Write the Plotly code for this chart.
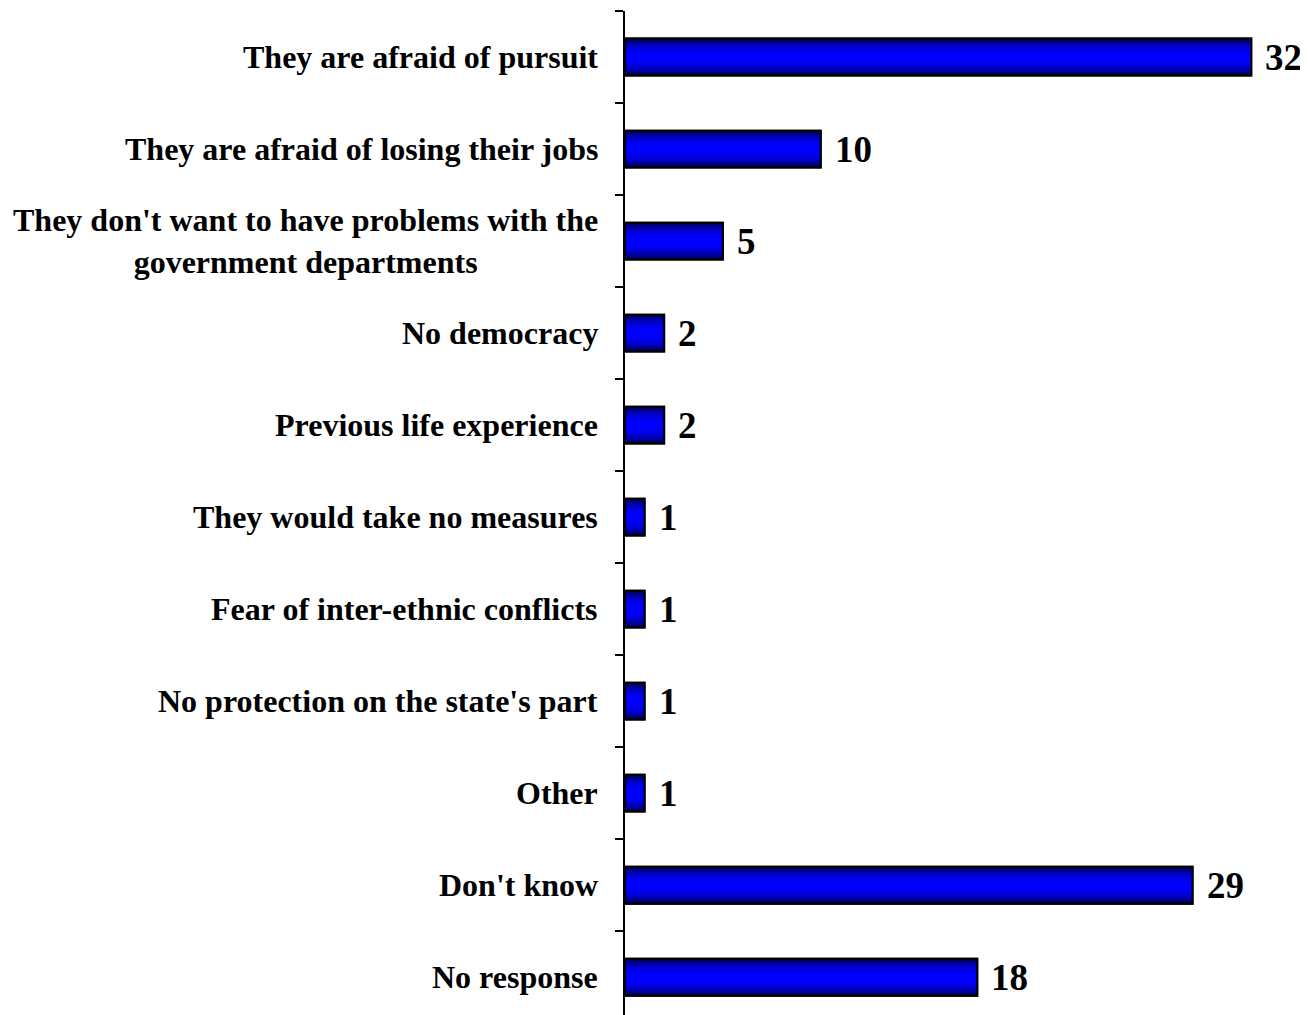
import plotly.graph_objects as go

categories = [
    "They are afraid of pursuit",
    "They are afraid of losing their jobs",
    "They don't want to have problems with the<br>government departments",
    "No democracy",
    "Previous life experience",
    "They would take no measures",
    "Fear of inter-ethnic conflicts",
    "No protection on the state's part",
    "Other",
    "Don't know",
    "No response",
]
values = [32, 10, 5, 2, 2, 1, 1, 1, 1, 29, 18]

FONT = "Liberation Serif, Times New Roman, serif"

# layered bars to imitate the vertical gradient of the original bars
layers = [
    (0.40, "#000050", 2),
    (0.36, "#000080", 0),
    (0.31, "#0000aa", 0),
    (0.25, "#0000d0", 0),
    (0.18, "#0000ec", 0),
    (0.10, "#0000ff", 0),
]

fig = go.Figure()
for w, col, lw in layers:
    fig.add_trace(go.Bar(
        x=values, y=categories, orientation="h", width=w,
        marker=dict(color=col, line=dict(color="black", width=lw)),
        hoverinfo="skip", showlegend=False,
    ))
# redraw outline on top
fig.add_trace(go.Bar(
    x=values, y=categories, orientation="h", width=0.40,
    marker=dict(color="rgba(0,0,0,0)", line=dict(color="black", width=2)),
    hoverinfo="skip", showlegend=False,
))

annotations = []
for c, v in zip(categories, values):
    annotations.append(dict(
        x=0, xref="paper", y=c, yref="y", text=c, showarrow=False,
        xanchor="right", align="center", xshift=-25,
        font=dict(family=FONT, size=32, color="black", weight="bold"),
    ))
    annotations.append(dict(
        x=v, xref="x", y=c, yref="y", text=str(v), showarrow=False,
        xanchor="left", xshift=12,
        font=dict(family=FONT, size=37, color="black", weight="bold"),
    ))

fig.update_layout(
    width=1300, height=1007,
    margin=dict(l=617, r=0, t=3, b=0),
    paper_bgcolor="white", plot_bgcolor="white",
    barmode="overlay",
    annotations=annotations,
    xaxis=dict(range=[0, 34.9], visible=False, showgrid=False, zeroline=False),
    yaxis=dict(
        type="category", categoryorder="array", categoryarray=categories,
        range=[10.41, -0.5], showline=True, linecolor="black", linewidth=2,
        ticks="outside", tickson="boundaries", ticklen=8, tickwidth=2,
        tickcolor="black", showticklabels=False, showgrid=False, zeroline=False,
    ),
)

fig.write_html("out.html")
